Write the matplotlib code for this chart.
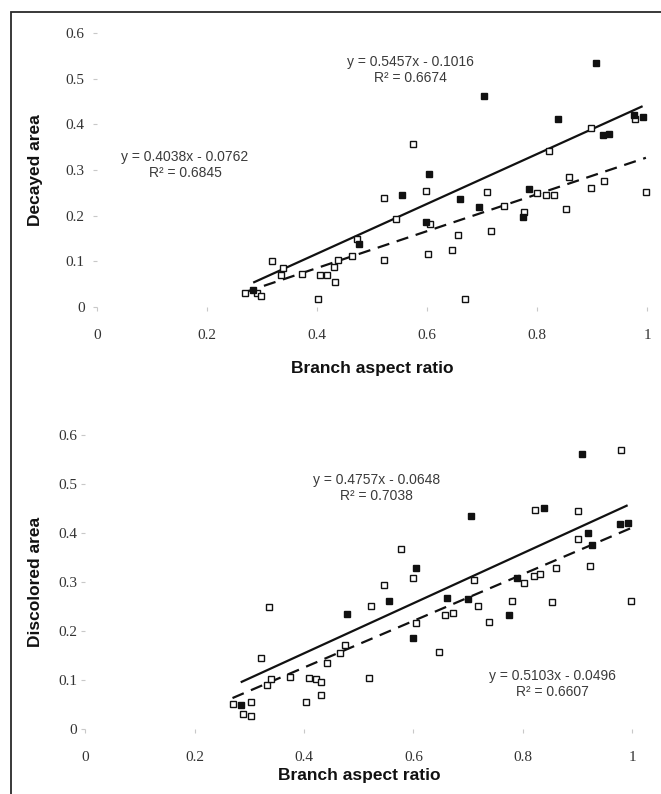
import matplotlib.pyplot as plt
import numpy as np
from matplotlib.patches import Rectangle

# decayed area vs branch aspect ratio
top_filled_x = [0.284, 0.476, 0.555, 0.598, 0.604, 0.660, 0.695, 0.704, 0.775, 0.786, 0.839, 0.908, 0.920, 0.930, 0.976, 0.992]
top_filled_y = [0.037, 0.139, 0.246, 0.187, 0.292, 0.236, 0.219, 0.462, 0.198, 0.258, 0.412, 0.535, 0.376, 0.378, 0.420, 0.415]
top_open_x = [0.269, 0.290, 0.299, 0.319, 0.334, 0.338, 0.372, 0.401, 0.405, 0.419, 0.430, 0.433, 0.439, 0.463,
              0.472, 0.521, 0.522, 0.543, 0.575, 0.599, 0.602, 0.605, 0.645, 0.656, 0.669, 0.709, 0.716, 0.740,
              0.777, 0.800, 0.816, 0.821, 0.831, 0.852, 0.859, 0.899, 0.899, 0.922, 0.978, 0.998]
top_open_y = [0.031, 0.030, 0.023, 0.101, 0.070, 0.085, 0.073, 0.018, 0.070, 0.070, 0.087, 0.055, 0.103, 0.112,
              0.148, 0.103, 0.239, 0.192, 0.356, 0.255, 0.117, 0.182, 0.125, 0.158, 0.018, 0.252, 0.166, 0.222,
              0.209, 0.250, 0.246, 0.342, 0.246, 0.214, 0.284, 0.391, 0.261, 0.277, 0.411, 0.252]

# discolored area vs branch aspect ratio
bot_filled_x = [0.284, 0.479, 0.556, 0.600, 0.605, 0.662, 0.699, 0.705, 0.775, 0.789, 0.839, 0.908, 0.920, 0.926, 0.978, 0.992]
bot_filled_y = [0.049, 0.234, 0.262, 0.185, 0.328, 0.267, 0.265, 0.435, 0.233, 0.309, 0.452, 0.561, 0.401, 0.376, 0.419, 0.421]
bot_open_x = [0.269, 0.288, 0.303, 0.303, 0.321, 0.332, 0.336, 0.339, 0.375, 0.403, 0.409, 0.422, 0.431, 0.431,
              0.441, 0.466, 0.475, 0.519, 0.522, 0.546, 0.577, 0.600, 0.605, 0.646, 0.658, 0.673, 0.710, 0.718,
              0.739, 0.780, 0.803, 0.821, 0.822, 0.832, 0.854, 0.861, 0.901, 0.901, 0.923, 0.979, 0.998]
bot_open_y = [0.052, 0.030, 0.055, 0.027, 0.145, 0.089, 0.248, 0.103, 0.107, 0.055, 0.105, 0.102, 0.095, 0.069,
              0.135, 0.156, 0.171, 0.105, 0.251, 0.294, 0.367, 0.308, 0.216, 0.158, 0.232, 0.237, 0.304, 0.251,
              0.219, 0.262, 0.297, 0.313, 0.447, 0.316, 0.259, 0.328, 0.444, 0.387, 0.333, 0.569, 0.262]

# trendlines (slope, intercept) as printed on the chart
top_filled_fit = (0.5457, -0.1016)
top_open_fit = (0.4038, -0.0762)
bot_filled_fit = (0.5103, -0.0496)
bot_open_fit = (0.4757, -0.0648)

x_ticks = [0, 0.2, 0.4, 0.6, 0.8, 1]
x_ticklabels = ["0", "0.2", "0.4", "0.6", "0.8", "1"]
y_ticks = [0, 0.1, 0.2, 0.3, 0.4, 0.5, 0.6]
y_ticklabels = ["0", "0.1", "0.2", "0.3", "0.4", "0.5", "0.6"]

W, H = 661, 794
fig = plt.figure(figsize=(W / 100, H / 100), dpi=100)
fig.patch.set_facecolor("white")
fig.add_artist(Rectangle((11 / W, -0.1), 1.5, 1 - 12 / H + 0.1, transform=fig.transFigure,
                         fill=False, edgecolor="#2a2a2a", lw=1.3))

serif = "Liberation Serif"
sans = "Liberation Sans"


def panel(rect, fx, fy, ox, oy, ffit, ofit, ylabel, eqs, ylab_x, xlab_y, ypad):
    ax = fig.add_axes(rect)
    for s in ax.spines.values():
        s.set_visible(False)
    ax.set_xlim(0, 1)
    ax.set_ylim(0, 0.6)

    xs = np.array([min(fx), max(fx)])
    ax.plot(xs, ffit[0] * xs + ffit[1], color="#111111", lw=1.6, solid_capstyle="butt", zorder=2)
    xs = np.array([min(ox), max(ox)])
    ax.plot(xs, ofit[0] * xs + ofit[1], color="#111111", lw=1.6, dashes=(5.5, 3.5), zorder=2)

    ax.plot(ox, oy, "s", ms=5, mfc="white", mec="#111111", mew=1.0, ls="none", clip_on=False, zorder=3)
    ax.plot(fx, fy, "s", ms=5, mfc="#111111", mec="#111111", mew=1.0, ls="none", clip_on=False, zorder=4)

    ax.set_xticks(x_ticks)
    ax.set_xticklabels(x_ticklabels, family=serif, fontsize=11, color="#333333")
    ax.set_yticks(y_ticks)
    ax.set_yticklabels(y_ticklabels, family=serif, fontsize=11, color="#333333")
    ax.tick_params(axis="x", length=3, width=0.8, color="#c8c8c8", pad=13)
    ax.tick_params(axis="y", length=3, width=0.8, color="#c8c8c8", pad=ypad)

    ax.set_xlabel("Branch aspect ratio", family=sans, fontweight="bold", fontsize=12.5, color="#111111")
    ax.xaxis.set_label_coords(0.5, xlab_y)
    ax.set_ylabel(ylabel, family=sans, fontweight="bold", fontsize=12.5, color="#111111")
    ax.yaxis.set_label_coords(ylab_x, 0.5)

    for tx, ty, s in eqs:
        ax.text(tx, ty, s, family=sans, fontsize=10, color="#3a3a3a", ha="center", va="center",
                multialignment="center", linespacing=1.25)
    return ax


panel([97 / W, 1 - 307 / H, 550 / W, 274 / H],
      top_filled_x, top_filled_y, top_open_x, top_open_y, top_filled_fit, top_open_fit,
      "Decayed area",
      [(0.57, 0.519, "y = 0.5457x - 0.1016\nR² = 0.6674"),
       (0.16, 0.311, "y = 0.4038x - 0.0762\nR² = 0.6845")],
      -0.098, -0.197, 6)

panel([85.5 / W, 1 - 729 / H, 546.5 / W, 294 / H],
      bot_filled_x, bot_filled_y, bot_open_x, bot_open_y, bot_filled_fit, bot_open_fit,
      "Discolored area",
      [(0.533, 0.492, "y = 0.4757x - 0.0648\nR² = 0.7038"),
       (0.855, 0.092, "y = 0.5103x - 0.0496\nR² = 0.6607")],
      -0.078, -0.133, 3)

fig.savefig("out.png", dpi=100)
